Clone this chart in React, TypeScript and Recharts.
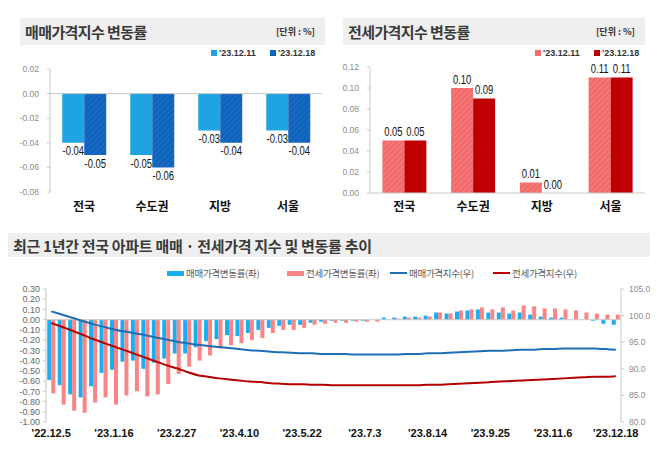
import React from "react";
import {
  BarChart, Bar, XAxis, YAxis, LabelList, ReferenceLine,
  ComposedChart, Line,
} from "recharts";

// ---- top charts ----
const regions = ["전국", "수도권", "지방", "서울"];
const weekLabels = ["'23.12.11", "'23.12.18"];
const saleRate1211 = [-0.04, -0.05, -0.03, -0.03];
const saleRate1218 = [-0.05, -0.06, -0.04, -0.04];
const jeonseRate1211 = [0.05, 0.10, 0.01, 0.11];
const jeonseRate1218 = [0.05, 0.09, 0.00, 0.11];
const saleTicks = [0.02, 0, -0.02, -0.04, -0.06, -0.08];
const jeonseTicks = [0, 0.02, 0.04, 0.06, 0.08, 0.10, 0.12];

// ---- bottom chart (weekly) ----
const weeks = [
  "'22.12.5", "'22.12.12", "'22.12.19", "'22.12.26",
  "'23.1.2", "'23.1.9", "'23.1.16", "'23.1.23", "'23.1.30",
  "'23.2.6", "'23.2.13", "'23.2.20", "'23.2.27",
  "'23.3.6", "'23.3.13", "'23.3.20", "'23.3.27",
  "'23.4.3", "'23.4.10", "'23.4.17", "'23.4.24",
  "'23.5.1", "'23.5.8", "'23.5.15", "'23.5.22", "'23.5.29",
  "'23.6.5", "'23.6.12", "'23.6.19", "'23.6.26",
  "'23.7.3", "'23.7.10", "'23.7.17", "'23.7.24", "'23.7.31",
  "'23.8.7", "'23.8.14", "'23.8.21", "'23.8.28",
  "'23.9.4", "'23.9.11", "'23.9.18", "'23.9.25",
  "'23.10.2", "'23.10.9", "'23.10.16", "'23.10.23", "'23.10.30",
  "'23.11.6", "'23.11.13", "'23.11.20", "'23.11.27",
  "'23.12.4", "'23.12.11", "'23.12.18",
];
const saleChange = [
  -0.59, -0.64, -0.73, -0.76, -0.65, -0.52, -0.49, -0.41, -0.40, -0.48,
  -0.42, -0.38, -0.33, -0.33, -0.27, -0.21, -0.19, -0.15, -0.16, -0.13,
  -0.10, -0.08, -0.06, -0.05, -0.05, -0.03, -0.02, -0.01, -0.01, -0.01,
  -0.01, 0.00, 0.02, 0.02, 0.03, 0.03, 0.04, 0.07, 0.06, 0.08,
  0.09, 0.10, 0.07, 0.07, 0.06, 0.07, 0.05, 0.03, 0.02, 0.02,
  0.00, 0.00, -0.01, -0.04, -0.05,
];
const jeonseChange = [
  -0.72, -0.83, -0.89, -0.91, -0.81, -0.76, -0.83, -0.74, -0.70, -0.75,
  -0.73, -0.63, -0.53, -0.46, -0.40, -0.35, -0.28, -0.25, -0.23, -0.20,
  -0.18, -0.13, -0.10, -0.10, -0.08, -0.05, -0.04, -0.03, -0.03, -0.02,
  -0.02, -0.02, 0.00, 0.01, 0.02, 0.02, 0.03, 0.07, 0.06, 0.09,
  0.10, 0.12, 0.10, 0.12, 0.09, 0.14, 0.13, 0.11, 0.11, 0.10,
  0.09, 0.07, 0.06, 0.05, 0.05,
];
const saleIndex = [
  100.8, 100.2, 99.6, 99.0, 98.4, 97.9, 97.4, 97.0, 96.7, 96.3,
  95.9, 95.5, 95.1, 94.8, 94.5, 94.3, 94.1, 93.9, 93.7, 93.5,
  93.4, 93.2, 93.1, 93.0, 92.9, 92.9, 92.8, 92.8, 92.8, 92.7,
  92.7, 92.7, 92.7, 92.7, 92.8, 92.8, 92.9, 92.9, 93.0, 93.1,
  93.2, 93.3, 93.4, 93.4, 93.5, 93.6, 93.6, 93.7, 93.7, 93.8,
  93.8, 93.8, 93.8, 93.7, 93.6,
];
const jeonseIndex = [
  98.6, 97.9, 97.2, 96.4, 95.6, 94.9, 94.2, 93.5, 92.8, 92.1,
  91.4, 90.7, 90.1, 89.4, 88.8, 88.5, 88.2, 88.0, 87.8, 87.6,
  87.5, 87.3, 87.2, 87.1, 87.1, 87.0, 87.0, 86.9, 86.9, 86.9,
  86.9, 86.9, 86.9, 86.9, 86.9, 86.9, 87.0, 87.0, 87.1, 87.2,
  87.3, 87.4, 87.5, 87.6, 87.7, 87.8, 87.9, 88.0, 88.1, 88.2,
  88.3, 88.4, 88.5, 88.5, 88.6,
];
const leftTicks = [0.3, 0.2, 0.1, 0, -0.1, -0.2, -0.3, -0.4, -0.5, -0.6, -0.7, -0.8, -0.9, -1.0];
const rightTicks = [80, 85, 90, 95, 100, 105];
const seriesNames = ["매매가격변동률(좌)", "전세가격변동률(좌)", "매매가격지수(우)", "전세가격지수(우)"];

const saleData = regions.map((r, i) => ({ region: r, a: saleRate1211[i], b: saleRate1218[i] }));
const jeonseData = regions.map((r, i) => ({ region: r, a: jeonseRate1211[i], b: jeonseRate1218[i] }));
const weeklyData = weeks.map((w, i) => ({
  week: w,
  saleChg: saleChange[i],
  jeonseChg: jeonseChange[i],
  saleIdx: saleIndex[i],
  jeonseIdx: jeonseIndex[i],
}));

const KR = "'Noto Sans CJK KR', 'Noto Sans', sans-serif";
const LIB = "'Liberation Sans', sans-serif";

// condensed value labels: squeeze horizontally like the narrow face in the reference
const valueLabel = (props: any) => {
  const { x, y, width, height, value } = props;
  const top = Math.min(y, y + height);
  const bottom = Math.max(y, y + height);
  const ty = value < 0 ? bottom + 9 : top - 8;
  const s = Number(value).toFixed(2);
  return (
    <g transform={`translate(${x + width / 2},${ty}) scale(0.7,1)`}>
      <text x={0} y={0} textAnchor="middle" dominantBaseline="middle"
        fontSize={13.5} fontFamily={LIB} fill="#111">
        {s}
      </text>
    </g>
  );
};

function TitleBar({ left, top, width, height, title, unit }: any) {
  return (
    <div style={{
      position: "absolute", left, top, width, height, background: "#efefef",
      display: "flex", alignItems: "center", justifyContent: "space-between",
      boxSizing: "border-box", padding: "0 10px 0 5px",
    }}>
      <span style={{ fontFamily: KR, fontWeight: 700, fontSize: 15, color: "#3a3a3a", letterSpacing: -0.6 }}>{title}</span>
      {unit && <span style={{ fontFamily: KR, fontWeight: 700, fontSize: 9, color: "#333" }}>{unit}</span>}
    </div>
  );
}

function SquareKey({ left, top, color, label }: any) {
  return (
    <div style={{ position: "absolute", left, top, display: "flex", alignItems: "center" }}>
      <span style={{ width: 6, height: 6, background: color, marginRight: 2 }} />
      <span style={{ fontFamily: LIB, fontWeight: 700, fontSize: 9, color: "#333" }}>{label}</span>
    </div>
  );
}

function LineKey({ left, top, color, label, thick }: any) {
  return (
    <div style={{ position: "absolute", left, top, display: "flex", alignItems: "center" }}>
      <span style={{ width: 17, height: thick, background: color, marginRight: 2 }} />
      <span style={{ fontFamily: KR, fontSize: 9.5, color: "#595959", letterSpacing: -0.3 }}>{label}</span>
    </div>
  );
}

export default function App() {
  const axisTick = { fontSize: 8.5, fill: "#8c8c8c", fontFamily: LIB };
  const catTick = { fontSize: 12, fill: "#111", fontWeight: 700, fontFamily: KR };
  return (
    <div style={{ position: "relative", width: 658, height: 455, margin: "-8px 0 0 -8px", background: "#fff", overflow: "hidden" }}>
      <TitleBar left={20} top={18} width={305} height={27} title="매매가격지수 변동률" unit="[단위 : %]" />
      <TitleBar left={343} top={18} width={302} height={27} title="전세가격지수 변동률" unit="[단위 : %]" />
      <SquareKey left={211} top={48} color="#1fa3e3" label={weekLabels[0]} />
      <SquareKey left={270} top={48} color="#0f63bd" label={weekLabels[1]} />
      <SquareKey left={535} top={48} color="#f46b6b" label={weekLabels[0]} />
      <SquareKey left={594} top={48} color="#c00000" label={weekLabels[1]} />

      <div style={{ position: "absolute", left: 0, top: 60 }}>
        <BarChart width={330} height={162} data={saleData} margin={{ top: 9, right: 8, left: 0, bottom: 0 }}
          barGap={0} barCategoryGap="18%">
          <defs>
            <pattern id="hatchBlue" width="4" height="4" patternUnits="userSpaceOnUse" patternTransform="rotate(45)">
              <rect width="4" height="4" fill="#0f63bd" />
              <line x1="0" y1="0" x2="0" y2="4" stroke="#2a78c9" strokeWidth="1.2" />
            </pattern>
          </defs>
          <XAxis dataKey="region" axisLine={false} tickLine={false} tick={catTick} tickMargin={4} height={30} />
          <YAxis domain={[-0.08, 0.02]} ticks={saleTicks} width={50} tickSize={3} tickMargin={8}
            tick={axisTick} tickFormatter={(v: number) => v.toFixed(2)}
            axisLine={{ stroke: "#c8c8c8" }} tickLine={{ stroke: "#c8c8c8" }} />
          <ReferenceLine y={0} stroke="#c8c8c8" />
          <Bar dataKey="a" fill="#1fa3e3" isAnimationActive={false}>
            <LabelList dataKey="a" content={valueLabel} />
          </Bar>
          <Bar dataKey="b" fill="url(#hatchBlue)" isAnimationActive={false}>
            <LabelList dataKey="b" content={valueLabel} />
          </Bar>
        </BarChart>
      </div>

      <div style={{ position: "absolute", left: 330, top: 58 }}>
        <BarChart width={328} height={165} data={jeonseData} margin={{ top: 9, right: 13, left: 0, bottom: 0 }}
          barGap={0} barCategoryGap="18%">
          <defs>
            <pattern id="hatchPink" width="4" height="4" patternUnits="userSpaceOnUse" patternTransform="rotate(45)">
              <rect width="4" height="4" fill="#f26a6a" />
              <line x1="0" y1="0" x2="0" y2="4" stroke="#f79494" strokeWidth="1.2" />
            </pattern>
          </defs>
          <XAxis dataKey="region" axisLine={{ stroke: "#c8c8c8" }} tickLine={false} tick={catTick} tickMargin={3} height={30} />
          <YAxis domain={[0, 0.12]} ticks={jeonseTicks} width={40} tickSize={3} tickMargin={8}
            tick={axisTick} tickFormatter={(v: number) => v.toFixed(2)}
            axisLine={{ stroke: "#c8c8c8" }} tickLine={{ stroke: "#c8c8c8" }} />
          <Bar dataKey="a" fill="url(#hatchPink)" isAnimationActive={false}>
            <LabelList dataKey="a" content={valueLabel} />
          </Bar>
          <Bar dataKey="b" fill="#c00000" minPointSize={0.01} isAnimationActive={false}>
            <LabelList dataKey="b" content={valueLabel} />
          </Bar>
        </BarChart>
      </div>

      <div style={{
        position: "absolute", left: 7, top: 233, width: 646, height: 24, background: "#efefef",
        display: "flex", alignItems: "center", paddingLeft: 6, boxSizing: "border-box",
      }}>
        <span style={{ fontFamily: KR, fontWeight: 700, fontSize: 15, color: "#3a3a3a", letterSpacing: -0.3 }}>
          최근 1년간 전국 아파트 매매 · 전세가격 지수 및 변동률 추이
        </span>
      </div>
      <LineKey left={167} top={266} color="#1aaef0" label={seriesNames[0]} thick={5} />
      <LineKey left={287} top={266} color="#fb8585" label={seriesNames[1]} thick={5} />
      <LineKey left={390} top={266} color="#1f6db5" label={seriesNames[2]} thick={2.5} />
      <LineKey left={493} top={266} color="#c00000" label={seriesNames[3]} thick={2.5} />

      <div style={{ position: "absolute", left: 0, top: 280 }}>
        <ComposedChart width={658} height={167} data={weeklyData} margin={{ top: 9, right: 0, left: 0, bottom: 0 }}
          barGap={0} barCategoryGap="12%">
          <XAxis dataKey="week" interval={5} axisLine={false} tickLine={false} tickMargin={1} height={25}
            tick={{ fontSize: 11, fill: "#111", fontWeight: 700, fontFamily: LIB }} />
          <YAxis yAxisId="l" domain={[-1, 0.3]} ticks={leftTicks} width={46} tickSize={3} tickMargin={3}
            tick={{ fontSize: 9, fill: "#666", fontFamily: LIB }}
            tickFormatter={(v: number) => v.toFixed(2)} interval={0}
            axisLine={{ stroke: "#c8c8c8" }} tickLine={{ stroke: "#c8c8c8" }} />
          <YAxis yAxisId="r" orientation="right" domain={[80, 105]} ticks={rightTicks} width={37} tickSize={3} tickMargin={5}
            tick={{ fontSize: 8.5, fill: "#8c8c8c", fontFamily: LIB }}
            tickFormatter={(v: number) => v.toFixed(1)}
            axisLine={{ stroke: "#c8c8c8" }} tickLine={{ stroke: "#c8c8c8" }} />
          <ReferenceLine yAxisId="l" y={0} stroke="#c8c8c8" />
          <Bar yAxisId="l" dataKey="saleChg" fill="#1aaef0" isAnimationActive={false} />
          <Bar yAxisId="l" dataKey="jeonseChg" fill="#fb8585" isAnimationActive={false} />
          <Line yAxisId="r" dataKey="saleIdx" type="monotone" stroke="#1f6db5" strokeWidth={2} dot={false} isAnimationActive={false} />
          <Line yAxisId="r" dataKey="jeonseIdx" type="monotone" stroke="#b50000" strokeWidth={2} dot={false} isAnimationActive={false} />
        </ComposedChart>
      </div>
    </div>
  );
}
